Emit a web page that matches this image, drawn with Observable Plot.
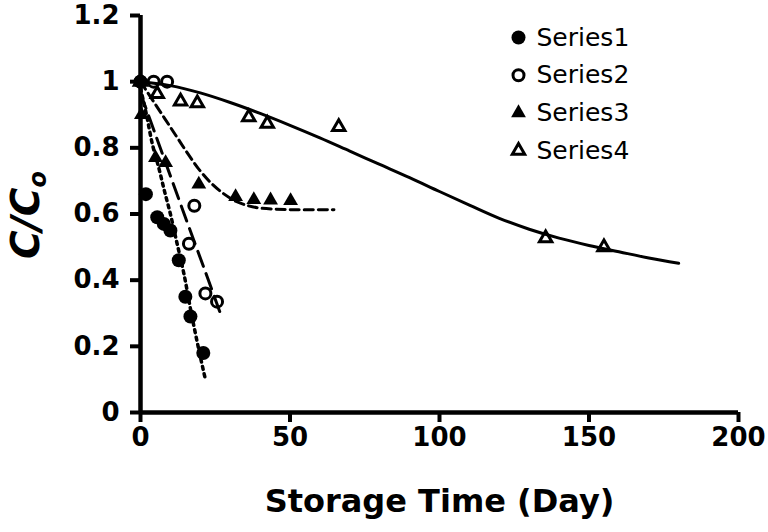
<!DOCTYPE html>
<html><head><meta charset="utf-8">
<script src="https://cdn.jsdelivr.net/npm/d3@7"></script>
<script src="https://cdn.jsdelivr.net/npm/@observablehq/plot@0.6"></script>
<style>
body{margin:0;background:#fff;}
#chart{position:relative;width:768px;height:532px;}
</style></head><body><div id="chart"></div>
<script>
// Axis ticks
const xTicks = [0, 50, 100, 150, 200];
const yTicks = [0, 0.2, 0.4, 0.6, 0.8, 1, 1.2];
const seriesNames = ["Series1", "Series2", "Series3", "Series4"];

// Measured points
const s1x = [0, 1.8, 5.6, 7.8, 10, 12.8, 15, 16.7, 21];
const s1y = [1.0, 0.66, 0.59, 0.57, 0.55, 0.46, 0.35, 0.29, 0.18];
const s2x = [0, 4.4, 8.9, 16.2, 18, 21.7, 25.6];
const s2y = [1.0, 1.0, 1.0, 0.51, 0.625, 0.36, 0.335];
const s3x = [0, 0.3, 5, 8.4, 19.5, 31.8, 37.9, 43.5, 50.2];
const s3y = [1.0, 0.9, 0.77, 0.755, 0.69, 0.652, 0.643, 0.642, 0.64];
const s4x = [0, 5.6, 13.4, 19, 36.2, 42.4, 66.3, 135.5, 155];
const s4y = [1.0, 0.963, 0.94, 0.935, 0.893, 0.873, 0.863, 0.527, 0.5];

// Fitted curves
const f1x = [0, 2, 4, 6.1, 8, 10, 12, 14.5, 17, 19.5, 21.7];
const f1y = [0.98, 0.9, 0.81, 0.74, 0.67, 0.6, 0.52, 0.42, 0.3, 0.19, 0.1];
const f2x = [0, 5, 11, 15, 21.5, 27.3];
const f2y = [0.965, 0.84, 0.69, 0.59, 0.43, 0.285];
const f3x = [0, 4, 8, 12, 16, 20, 24, 28, 32, 36, 40, 50, 64.7];
const f3y = [1.0, 0.945, 0.89, 0.835, 0.78, 0.73, 0.69, 0.66, 0.638, 0.625, 0.618, 0.613, 0.613];
const f4x = [0, 10, 20, 30, 40, 50, 60, 70, 80, 90, 100, 110, 120, 130, 140, 150, 160, 170, 180];
const f4y = [1.0, 0.988, 0.966, 0.937, 0.904, 0.868, 0.83, 0.79, 0.75, 0.71, 0.668, 0.627, 0.587, 0.554, 0.527, 0.505, 0.486, 0.467, 0.451];

const tbl = (xs, ys) => xs.map((x, i) => ({x, y: ys[i]}));
const s1 = tbl(s1x, s1y), s2 = tbl(s2x, s2y), s3 = tbl(s3x, s3y), s4 = tbl(s4x, s4y);
const f1 = tbl(f1x, f1y), f2 = tbl(f2x, f2y), f3 = tbl(f3x, f3y), f4 = tbl(f4x, f4y);

const FONT = "DejaVu Sans";
const symStyles = [
  {symbol: "circle", r: 7, fill: "black", stroke: "none"},
  {symbol: "circle", r: 5.5, fill: "none", stroke: "black", strokeWidth: 3},
  {symbol: "triangle", r: 5.5, fill: "black", stroke: "none"},
  {symbol: "triangle", r: 4.6, fill: "none", stroke: "black", strokeWidth: 3}
];

const legendMarks = seriesNames.flatMap((name, i) => [
  Plot.dot([name], {frameAnchor: "top-left", dx: 378, dy: 22 + i * 37.7, ...symStyles[i]}),
  Plot.text([name], {frameAnchor: "top-left", dx: 396, dy: 22 + i * 37.7, text: d => d,
    textAnchor: "start", lineAnchor: "middle", fontSize: 25, fontFamily: FONT, fill: "black"})
]);

const chart = Plot.plot({
  width: 768, height: 532,
  marginLeft: 140, marginRight: 30, marginTop: 15, marginBottom: 120,
  style: {background: "white", color: "black", overflow: "visible"},
  x: {domain: [0, 200]},
  y: {domain: [0, 1.2]},
  marks: [
    Plot.axisX({ticks: xTicks, tickSize: 10, tickPadding: 5, strokeWidth: 4, stroke: "black",
      fontSize: 26, fontWeight: "bold", fontFamily: FONT, label: null, tickFormat: d => String(d)}),
    Plot.axisY({ticks: yTicks, tickSize: 10, tickPadding: 11, strokeWidth: 4, stroke: "black",
      fontSize: 26, fontWeight: "bold", fontFamily: FONT, label: null, tickFormat: d => String(d)}),
    Plot.ruleX([0], {strokeWidth: 4.5, stroke: "black"}),
    Plot.ruleY([0], {strokeWidth: 4.5, stroke: "black"}),
    Plot.line(f4, {x: "x", y: "y", stroke: "black", strokeWidth: 3, curve: "catmull-rom"}),
    Plot.line(f3, {x: "x", y: "y", stroke: "black", strokeWidth: 3, strokeDasharray: "9,5", curve: "catmull-rom"}),
    Plot.line(f2, {x: "x", y: "y", stroke: "black", strokeWidth: 3, strokeDasharray: "16,8", curve: "catmull-rom"}),
    Plot.line(f1, {x: "x", y: "y", stroke: "black", strokeWidth: 3.5, strokeDasharray: "3,4.5", curve: "catmull-rom"}),
    Plot.dot(s1, {x: "x", y: "y", ...symStyles[0]}),
    Plot.dot(s2, {x: "x", y: "y", ...symStyles[1]}),
    Plot.dot(s3, {x: "x", y: "y", ...symStyles[2]}),
    Plot.dot(s4, {x: "x", y: "y", ...symStyles[3]}),
    ...legendMarks,
    Plot.text(["Storage Time (Day)"], {frameAnchor: "bottom", dy: 89, text: d => d,
      lineAnchor: "middle", fontSize: 32, fontWeight: "bold", fontFamily: FONT, fill: "black"})
  ]
});

// y-axis title with subscript
const yl = d3.select(chart).append("text")
  .attr("transform", "translate(28,215) rotate(-90)")
  .attr("text-anchor", "middle")
  .attr("dominant-baseline", "middle")
  .attr("font-family", FONT)
  .attr("font-weight", "bold")
  .attr("font-style", "italic")
  .attr("font-size", 39)
  .attr("fill", "black");
yl.append("tspan").text("C/C");
yl.append("tspan").attr("font-size", 24).attr("dy", 11).text("o");

document.getElementById("chart").appendChild(chart);
</script></body></html>
